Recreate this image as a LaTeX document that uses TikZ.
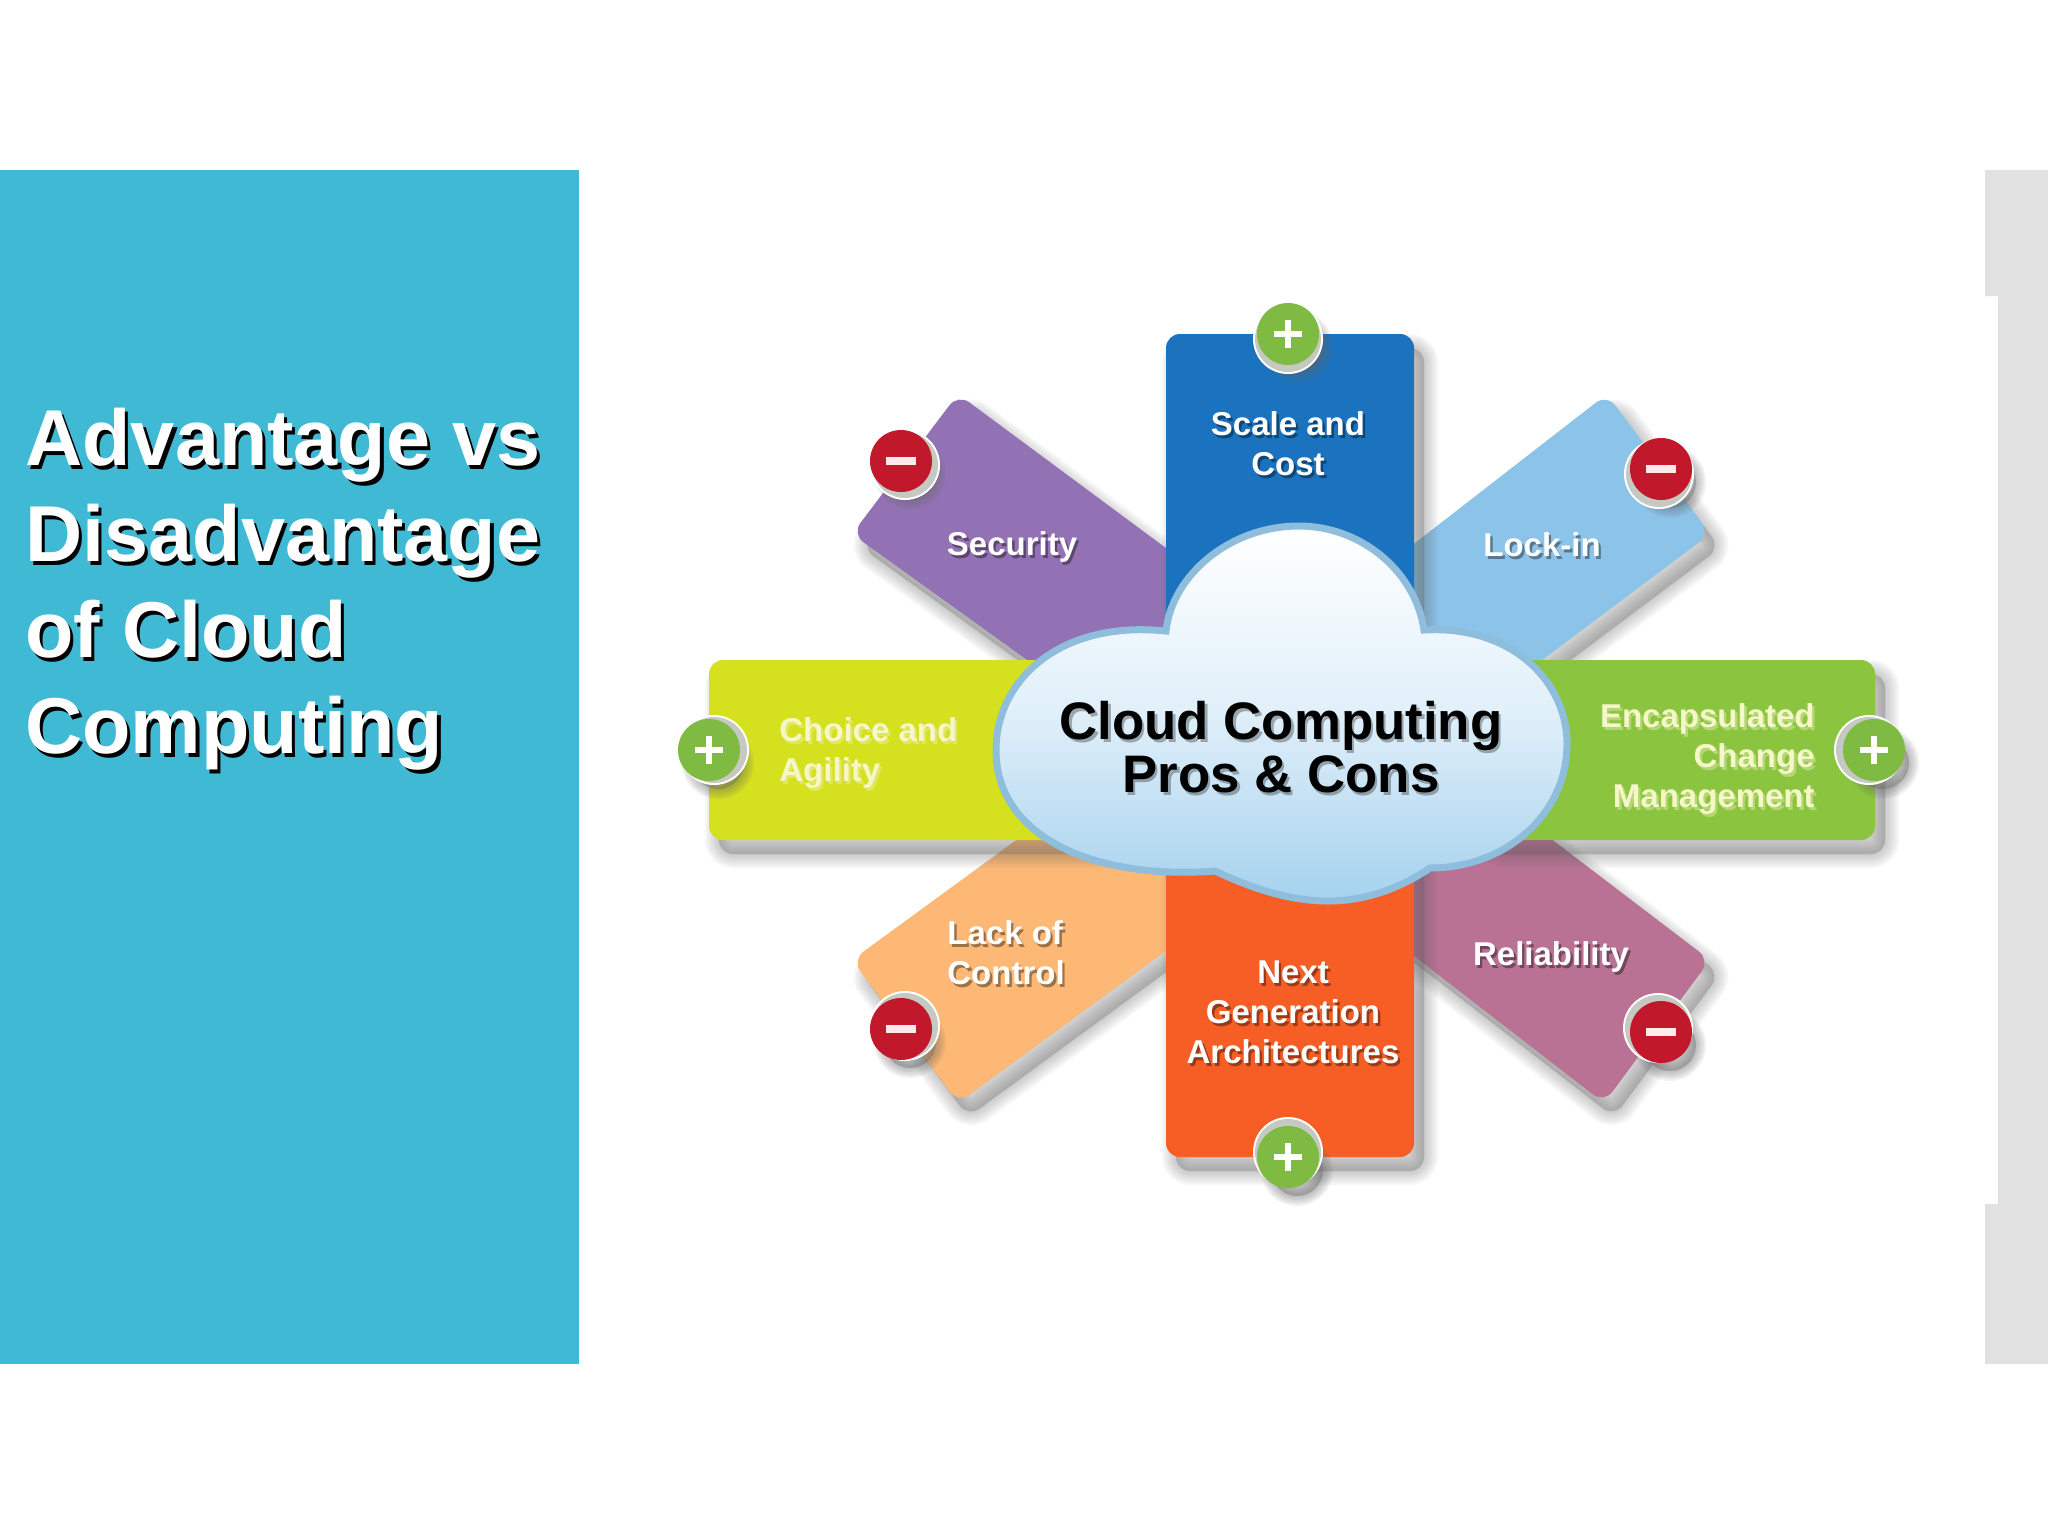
\documentclass[tikz,border=0pt]{standalone}
\usepackage{fontspec}
\setmainfont{Liberation Sans}
\usetikzlibrary{calc}
\definecolor{panelc}{HTML}{40B9D5}
\definecolor{sidec}{HTML}{E1E1E1}
\definecolor{bluec}{HTML}{1B72BE}
\definecolor{orangec}{HTML}{F65E26}
\definecolor{yellowc}{HTML}{D5E01F}
\definecolor{greenc}{HTML}{8BC43F}
\definecolor{purplec}{HTML}{9271B4}
\definecolor{skyc}{HTML}{8CC3E9}
\definecolor{peachc}{HTML}{FDB876}
\definecolor{mauvec}{HTML}{B97194}
\definecolor{cloudrim}{HTML}{8FBEDD}
\definecolor{cloudlow}{HTML}{A6D2EE}
\definecolor{plusc}{HTML}{7FBA42}
\definecolor{minusc}{HTML}{C2182B}
\definecolor{ringc}{HTML}{C6C9C2}
\definecolor{creamc}{HTML}{F6F7C8}
\tikzset{
  x=0.5pt,y=-0.5pt,
  tab/.style={rounded corners=7pt},
  labeltxt/.style={font=\bfseries\fontsize{16.5}{20}\selectfont,text=white,inner sep=0pt},
  labelsh/.style={labeltxt,text=black,text opacity=.38,xshift=1.2pt,yshift=-1.4pt},
  headtxt/.style={font=\bfseries\fontsize{39.6}{48}\selectfont,text=white,inner sep=0pt,align=left,anchor=north west},
  cloudtxt/.style={font=\bfseries\fontsize{26.4}{26.5}\selectfont,text=black,inner sep=0pt,align=center},
  badgecore/.style={circle,minimum size=31pt,inner sep=0pt},
  signstroke/.style={white,line width=3pt,line cap=butt}
}
% soft drop shadow made of stacked translucent layers
\newcommand{\softsh}[3]{%
  \foreach \wd in {14pt,12pt,10pt,8pt,6pt,4pt,2pt}{%
    \path[tab,draw=black!60,fill=black!60,line join=round,line width=\wd,opacity=.05,shift={(#1,#2)}] #3;}%
}
\newcommand{\clabel}[4]{% name, position, options, text
  \node[labelsh,#3] at (#2) {#4};
  \node[labeltxt,#3] (#1) at (#2) {#4};
}
\newcommand{\badgebase}[4]{% name, position, ring offset, fill
  \foreach \wd in {10pt,8pt,6pt,4pt,2pt}{%
    \fill[black!60,opacity=.09,line width=\wd,draw=black!60] ($(#2)+(9,13)$) circle[radius=26];}
  \fill[white] ($(#2)+(#3)$) circle[radius=35];
  \fill[ringc] ($(#2)+(#3)$) circle[radius=33];
  \node[badgecore,fill=#4] (#1) at (#2) {};
}
\newcommand{\plusbadge}[3]{%
  \badgebase{#1}{#2}{#3}{plusc}
  \draw[signstroke] ($(#1.center)+(-14,0)$) -- ($(#1.center)+(14,0)$);
  \draw[signstroke] ($(#1.center)+(0,-14)$) -- ($(#1.center)+(0,14)$);
}
\newcommand{\minusbadge}[3]{%
  \badgebase{#1}{#2}{#3}{minusc}
  \draw[signstroke,line width=3.8pt,white!92!red] ($(#1.center)+(-15,0)$) -- ($(#1.center)+(15,0)$);
}
\def\purplepath{(958,394) -- (852,534) -- (1290,849) -- (1290,640) -- cycle}
\def\skypath{(1607,394) -- (1710,534) -- (1290,849) -- (1290,640) -- cycle}
\def\peachpath{(852,960) -- (958,1103) -- (1290,860) -- (1290,640) -- cycle}
\def\mauvepath{(1710,960) -- (1604,1103) -- (1290,860) -- (1290,640) -- cycle}
\def\bluepath{(1166,334) rectangle (1414,720)}
\def\orangepath{(1166,800) rectangle (1414,1157)}
\def\yellowpath{(709,660) rectangle (1120,840)}
\def\greenpath{(1480,660) rectangle (1875,840)}
\def\cloudpath{(1166,631) .. controls (1172,575) and (1230,526) .. (1299,526)
  .. controls (1360,526) and (1415,570) .. (1424,630)
  .. controls (1510,625) and (1567,680) .. (1567,744)
  .. controls (1567,815) and (1505,868) .. (1430,868)
  .. controls (1405,885) and (1370,901) .. (1328,901)
  .. controls (1285,901) and (1245,885) .. (1215,871)
  .. controls (1100,880) and (996,840) .. (996,750)
  .. controls (996,680) and (1060,620) .. (1166,631) -- cycle}
\begin{document}
\begin{tikzpicture}
\useasboundingbox (0,0) rectangle (2048,1536);
\fill[white] (0,0) rectangle (2048,1536);
% slide furniture
\fill[panelc] (0,170) rectangle (579,1364);
\fill[sidec] (1985,170) -- (2048,170) -- (2048,1364) -- (1985,1364) -- (1985,1204) -- (1998,1204) -- (1998,296) -- (1985,296) -- cycle;
% heading
\node[headtxt,text=black,xshift=1.6pt,yshift=-2pt] at (25,408) {Advantage vs\\Disadvantage\\of Cloud\\Computing};
\node[headtxt] (head) at (25,408) {Advantage vs\\Disadvantage\\of Cloud\\Computing};
% diagonal tabs
\softsh{10}{14}{\purplepath}
\softsh{10}{14}{\skypath}
\softsh{10}{14}{\peachpath}
\softsh{10}{14}{\mauvepath}
\fill[tab,purplec] \purplepath;
\fill[tab,skyc] \skypath;
\fill[tab,peachc] \peachpath;
\fill[tab,mauvec] \mauvepath;
% straight tabs
\softsh{10}{14}{\bluepath}
\softsh{10}{14}{\orangepath}
\softsh{10}{14}{\yellowpath}
\softsh{10}{14}{\greenpath}
\fill[tab,bluec] \bluepath;
\fill[tab,orangec] \orangepath;
\fill[tab,yellowc] \yellowpath;
\fill[tab,greenc] \greenpath;
% cloud
\shade[top color=white,bottom color=cloudlow,middle color=cloudlow!35!white,draw=cloudrim,line width=3.5pt] \cloudpath;
\node[cloudtxt,text opacity=.3,xshift=1.2pt,yshift=-1.4pt] at (1281,747) {Cloud Computing\\Pros \& Cons};
\node[cloudtxt] (title) at (1281,747) {Cloud Computing\\Pros \& Cons};
% badges
\plusbadge{bTop}{1288,334}{0,5}
\plusbadge{bBottom}{1288,1157}{0,-5}
\plusbadge{bLeft}{709,750}{5,0}
\plusbadge{bRight}{1874,750}{-5,0}
\minusbadge{bSec}{901,461}{4,4}
\minusbadge{bLock}{1661,469}{-2,5}
\minusbadge{bLack}{901,1029}{4,-3}
\minusbadge{bRel}{1661,1032}{-3,-4}
% labels
\clabel{lScale}{1288,444}{align=center}{Scale and\\Cost}
\clabel{lSec}{1012,547}{}{Security}
\clabel{lLock}{1542,545}{}{Lock-in}
\clabel{lChoice}{779,753}{align=left,anchor=west,text=creamc}{Choice and\\Agility}
\clabel{lEnc}{1815,759}{align=right,anchor=east,text=creamc}{Encapsulated\\Change\\Management}
\clabel{lLack}{947,953}{align=left,anchor=west}{Lack of\\Control}
\clabel{lRel}{1551,957}{}{Reliability}
\clabel{lNext}{1293,1012}{align=center}{Next\\Generation\\Architectures}
\end{tikzpicture}
\end{document}
